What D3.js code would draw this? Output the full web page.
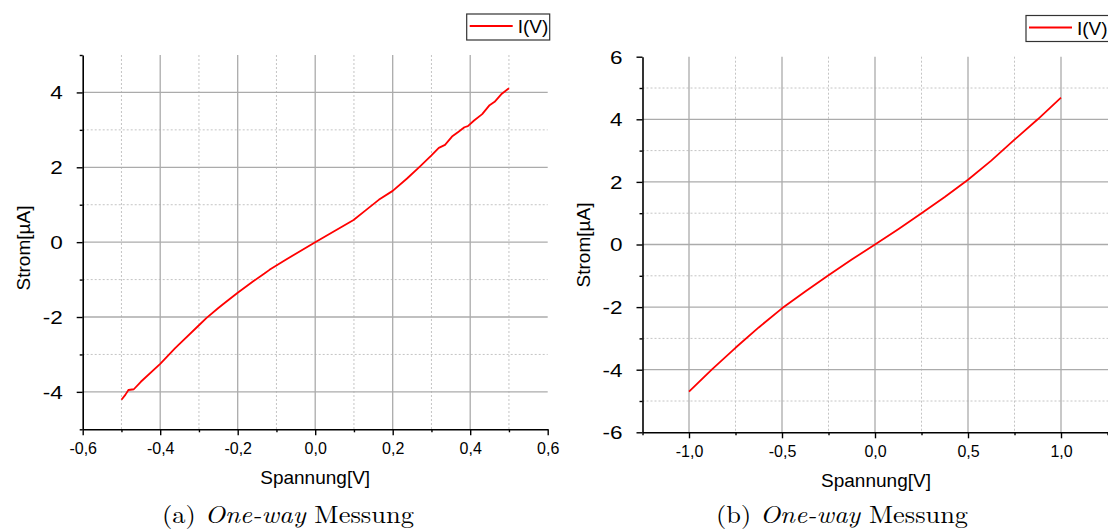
<!DOCTYPE html>
<html>
<head>
<meta charset="utf-8">
<script src="https://cdn.jsdelivr.net/npm/d3@7"></script>
<style>
  html, body { margin: 0; padding: 0; background: #fff; }
  svg { display: block; }
</style>
</head>
<body>
<svg id="fig" width="1108" height="530"></svg>
<script>
// ---- Panel (a): sweep -0,5 V .. 0,5 V ----
const voltageA = [-0.5, -0.49, -0.482, -0.468, -0.45, -0.4, -0.362, -0.35, -0.3, -0.281, -0.25,
  -0.233, -0.2, -0.159, -0.131, -0.118, -0.076, 0, 0.05, 0.099, 0.13, 0.164, 0.2, 0.237,
  0.27, 0.3, 0.319, 0.335, 0.353, 0.37, 0.385, 0.394, 0.41, 0.431, 0.45, 0.463, 0.48, 0.5];
const currentA = [-4.21, -4.08, -3.95, -3.93, -3.73, -3.25, -2.84, -2.72, -2.22, -2.03, -1.76,
  -1.62, -1.35, -1.04, -0.84, -0.74, -0.47, 0, 0.3, 0.59, 0.85, 1.13, 1.37, 1.7,
  2.02, 2.32, 2.52, 2.6, 2.82, 2.95, 3.07, 3.1, 3.25, 3.42, 3.66, 3.75, 3.95, 4.11];

// ---- Panel (b): sweep -1,0 V .. 1,0 V ----
const voltageB = [-1.0, -0.875, -0.75, -0.625, -0.5, -0.375, -0.25, -0.125, 0,
  0.125, 0.25, 0.375, 0.5, 0.625, 0.75, 0.875, 1.0];
const currentB = [-4.70, -3.98, -3.30, -2.65, -2.04, -1.50, -0.98, -0.48, 0,
  0.49, 1.0, 1.52, 2.07, 2.68, 3.35, 4.0, 4.69];

// ---- Axis ticks ----
const xMajorA = [-0.6, -0.4, -0.2, 0.0, 0.2, 0.4, 0.6];
const xMinorA = [-0.5, -0.3, -0.1, 0.1, 0.3, 0.5];
const yMajorA = [-4, -2, 0, 2, 4];
const yMinorA = [-5, -3, -1, 1, 3, 5];

const xMajorB = [-1.0, -0.5, 0.0, 0.5, 1.0];
const xMinorB = [-1.25, -0.75, -0.25, 0.25, 0.75, 1.25];
const yMajorB = [-6, -4, -2, 0, 2, 4, 6];
const yMinorB = [-5, -3, -1, 1, 3, 5];

const seriesName = "I(V)";
const xTitle = "Spannung[V]";
const yTitle = "Strom[µA]";
const captionA = ["(a) ", "One-way", " Messung"];
const captionB = ["(b) ", "One-way", " Messung"];

const svg = d3.select("#fig");
const fmt = v => d3.format(".1f")(v).replace(".", ",").replace("−", "-");
const SANS = "Liberation Sans, Arial, sans-serif";

function panel(o) {
  const g = svg.append("g");
  const x = d3.scaleLinear().domain(o.xDomain).range([o.left, o.right]);
  const y = d3.scaleLinear().domain(o.yDomain).range([o.bottom, o.top]);
  const [xd0, xd1] = o.xDomain, [yd0, yd1] = o.yDomain;
  const inner = (arr, lo, hi) => arr.filter(v => v > lo + 1e-9 && v < hi - 1e-9);

  // minor grid (dotted)
  g.selectAll(".gxm").data(inner(o.xMinor, xd0, xd1)).join("line")
    .attr("x1", d => x(d)).attr("x2", d => x(d))
    .attr("y1", o.top).attr("y2", o.bottom)
    .attr("stroke", "#c4c4c4").attr("stroke-width", 1).attr("stroke-dasharray", "2,2");
  g.selectAll(".gym").data(inner(o.yMinor, yd0, yd1)).join("line")
    .attr("x1", o.left).attr("x2", o.gridRight)
    .attr("y1", d => y(d)).attr("y2", d => y(d))
    .attr("stroke", "#c4c4c4").attr("stroke-width", 1).attr("stroke-dasharray", "2,2");

  // major grid (solid)
  g.selectAll(".gx").data(inner(o.xMajor, xd0, xd1)).join("line")
    .attr("x1", d => x(d)).attr("x2", d => x(d))
    .attr("y1", o.top).attr("y2", o.bottom)
    .attr("stroke", "#ababab").attr("stroke-width", 1.3);
  g.selectAll(".gy").data(inner(o.yMajor, yd0, yd1)).join("line")
    .attr("x1", o.left).attr("x2", o.gridRight)
    .attr("y1", d => y(d)).attr("y2", d => y(d))
    .attr("stroke", "#ababab").attr("stroke-width", 1.3);

  // measured curve
  const pts = o.vx.map((v, i) => [v, o.vy[i]]);
  g.append("path").datum(pts)
    .attr("d", d3.line().x(d => x(d[0])).y(d => y(d[1])))
    .attr("fill", "none").attr("stroke", "#ff0000").attr("stroke-width", 1.8)
    .attr("stroke-linejoin", "round");

  // bottom axis
  const xAxis = d3.axisBottom(x).tickValues(o.xMajor).tickFormat(fmt).tickSize(6).tickSizeOuter(0);
  const gx = g.append("g").attr("transform", `translate(0,${o.bottom})`).call(xAxis);
  gx.select(".domain").attr("stroke", "#000").attr("stroke-width", 1.6);
  gx.selectAll(".tick line").attr("stroke", "#000").attr("stroke-width", 1.4);
  gx.selectAll(".tick text").attr("font-family", SANS)
    .attr("font-size", 16).attr("fill", "#000").attr("dy", null).attr("y", 25);
  const gxMinor = d3.axisBottom(x).tickValues(o.xMinor).tickFormat("").tickSize(3).tickSizeOuter(0);
  const gx2 = g.append("g").attr("transform", `translate(0,${o.bottom})`).call(gxMinor);
  gx2.select(".domain").remove();
  gx2.selectAll(".tick line").attr("stroke", "#000").attr("stroke-width", 1.4);

  // left axis (tick numbers set slightly wide)
  const yAxis = d3.axisLeft(y).tickValues(o.yMajor).tickFormat(d => String(d)).tickSize(6).tickSizeOuter(0);
  const gy = g.append("g").attr("transform", `translate(${o.left},0)`).call(yAxis);
  gy.select(".domain").attr("stroke", "#000").attr("stroke-width", 1.6);
  gy.selectAll(".tick line").attr("stroke", "#000").attr("stroke-width", 1.4);
  gy.selectAll(".tick text").attr("font-family", SANS)
    .attr("font-size", 18).attr("fill", "#000")
    .attr("transform", "scale(1.25,1)").attr("x", -20 / 1.25).attr("dy", "0.36em");
  const gyMinor = d3.axisLeft(y).tickValues(o.yMinor).tickFormat("").tickSize(3).tickSizeOuter(0);
  const gy2 = g.append("g").attr("transform", `translate(${o.left},0)`).call(gyMinor);
  gy2.select(".domain").remove();
  gy2.selectAll(".tick line").attr("stroke", "#000").attr("stroke-width", 1.4);

  // axis titles
  g.append("text").attr("x", (o.left + o.right) / 2 + o.xTitleShift).attr("y", o.bottom + 55)
    .attr("text-anchor", "middle").attr("font-family", SANS)
    .attr("font-size", 19).text(xTitle);
  g.append("text")
    .attr("transform", `translate(${o.yTitleX},${o.yTitleY}) rotate(-90)`)
    .attr("text-anchor", "middle").attr("font-family", SANS)
    .attr("font-size", 19).text(yTitle);

  // legend
  const lg = g.append("g").attr("transform", `translate(${o.legX},${o.legY})`);
  lg.append("rect").attr("x", 0).attr("y", 0).attr("width", 83).attr("height", 26)
    .attr("fill", "#fff").attr("stroke", "#333").attr("stroke-width", 1.2);
  lg.append("line").attr("x1", 3).attr("x2", 46).attr("y1", 12).attr("y2", 12)
    .attr("stroke", "#ff0000").attr("stroke-width", 1.8);
  lg.append("text").attr("x", 51).attr("y", 19).attr("font-family", SANS)
    .attr("font-size", 19).text(seriesName);

  // caption
  const cap = g.append("text").attr("x", o.capX).attr("y", 523).attr("text-anchor", "middle")
    .attr("font-family", "Latin Modern Roman, Liberation Serif, serif").attr("font-size", 24)
    .attr("textLength", 252).attr("lengthAdjust", "spacingAndGlyphs");
  cap.append("tspan").text(o.caption[0]);
  cap.append("tspan").attr("font-style", "italic").text(o.caption[1]);
  cap.append("tspan").text(o.caption[2]);
}

panel({
  xDomain: [-0.6, 0.6], yDomain: [-5, 5],
  left: 82.7, right: 547.7, top: 55, bottom: 429.3, gridRight: 547.7,
  xMajor: xMajorA, xMinor: xMinorA, yMajor: yMajorA, yMinor: yMinorA,
  vx: voltageA, vy: currentA,
  xTitleShift: 0, yTitleX: 30, yTitleY: 248,
  legX: 466.7, legY: 14, capX: 288, caption: captionA
});

panel({
  xDomain: [-1.25, 1.25], yDomain: [-6, 6],
  left: 642.5, right: 1107.5, top: 56.7, bottom: 432.3, gridRight: 1108,
  xMajor: xMajorB, xMinor: xMinorB, yMajor: yMajorB, yMinor: yMinorB,
  vx: voltageB, vy: currentB,
  xTitleShift: 1, yTitleX: 590, yTitleY: 245,
  legX: 1026, legY: 15.5, capX: 842, caption: captionB
});
</script>
</body>
</html>
